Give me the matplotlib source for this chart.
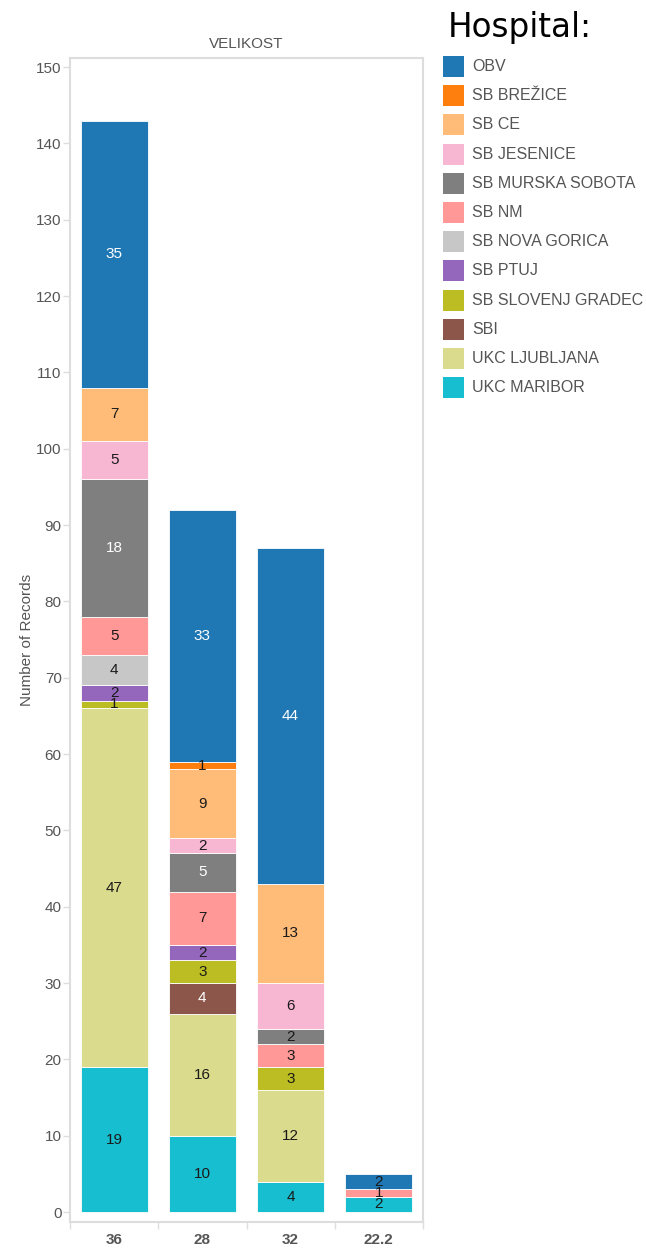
import matplotlib.pyplot as plt
from matplotlib.patches import Rectangle

velikost = ['36', '28', '32', '22.2']

# legend order (top to bottom)
hospitals = ['OBV', 'SB BREŽICE', 'SB CE', 'SB JESENICE', 'SB MURSKA SOBOTA', 'SB NM',
             'SB NOVA GORICA', 'SB PTUJ', 'SB SLOVENJ GRADEC', 'SBI', 'UKC LJUBLJANA',
             'UKC MARIBOR']
colors = ['#1f77b4', '#ff7f0e', '#ffbb78', '#f7b6d2', '#7f7f7f', '#ff9896',
          '#c7c7c7', '#9467bd', '#bcbd22', '#8c564b', '#dbdb8d', '#17becf']

obv = [35, 33, 44, 2]
sb_brezice = [0, 1, 0, 0]
sb_ce = [7, 9, 13, 0]
sb_jesenice = [5, 2, 6, 0]
sb_murska_sobota = [18, 5, 2, 0]
sb_nm = [5, 7, 3, 1]
sb_nova_gorica = [4, 0, 0, 0]
sb_ptuj = [2, 2, 0, 0]
sb_slovenj_gradec = [1, 3, 3, 0]
sbi = [0, 4, 0, 0]
ukc_ljubljana = [47, 16, 12, 0]
ukc_maribor = [19, 10, 4, 2]

values = [obv, sb_brezice, sb_ce, sb_jesenice, sb_murska_sobota, sb_nm, sb_nova_gorica,
          sb_ptuj, sb_slovenj_gradec, sbi, ukc_ljubljana, ukc_maribor]
dark = ['OBV', 'SB MURSKA SOBOTA', 'SBI']

plt.rcParams['font.family'] = ['Liberation Sans', 'DejaVu Sans']
grey = '#555555'
line = '#dddddd'

fig = plt.figure(figsize=(6.46, 12.48), dpi=100)
ax = fig.add_axes([70 / 646, 26 / 1248, 353 / 646, 1164 / 1248])

x = list(range(len(velikost)))
bottom = [0] * len(velikost)
# stack from the bottom of the legend upwards
for name, col, vals in reversed(list(zip(hospitals, colors, values))):
    ax.bar(x, vals, width=0.76, bottom=bottom, color=col, edgecolor='white', linewidth=0.6)
    for i, v in enumerate(vals):
        if v > 0:
            tc = 'white' if (name in dark and v >= 3) else '#1a1a1a'
            ax.text(i, bottom[i] + v / 2, str(v), ha='center', va='center', fontsize=11, color=tc)
    bottom = [b + v for b, v in zip(bottom, vals)]

ax.set_xlim(-0.5, 3.5)
ax.set_ylim(-1.3, 151.2)
ax.set_yticks(range(0, 151, 10))
ax.set_xticks(x)
ax.set_xticklabels(velikost, fontweight='bold')
ax.set_xticks([-0.5, 0.5, 1.5, 2.5, 3.5], minor=True)
ax.tick_params(axis='y', colors=line, labelcolor=grey, labelsize=11, length=5, width=1, pad=1)
ax.tick_params(axis='x', which='major', length=0, labelcolor=grey, labelsize=11, pad=8)
ax.tick_params(axis='x', which='minor', length=5, color=line, width=1)
for s in ax.spines.values():
    s.set_color(line)
    s.set_linewidth(1.5)

ax.set_title('VELIKOST', fontsize=11, color=grey, pad=7)
fig.text(27 / 646, 1 - 640 / 1248, 'Number of Records', rotation=90, ha='center', va='center',
         fontsize=11, color=grey)

# legend
fig.text(448 / 646, 1 - 37 / 1248, 'Hospital:', fontsize=23.5, color='black',
         family='DejaVu Sans', va='baseline')
for k, (name, col) in enumerate(zip(hospitals, colors)):
    yc = 66.5 + k * 29.2
    fig.add_artist(Rectangle((443 / 646, 1 - (yc + 10.5) / 1248), 21 / 646, 21 / 1248,
                             transform=fig.transFigure, facecolor=col, edgecolor='none'))
    fig.text(472 / 646, 1 - yc / 1248, name, fontsize=11.5, color=grey, va='center')

fig.savefig('out.png', dpi=100)
